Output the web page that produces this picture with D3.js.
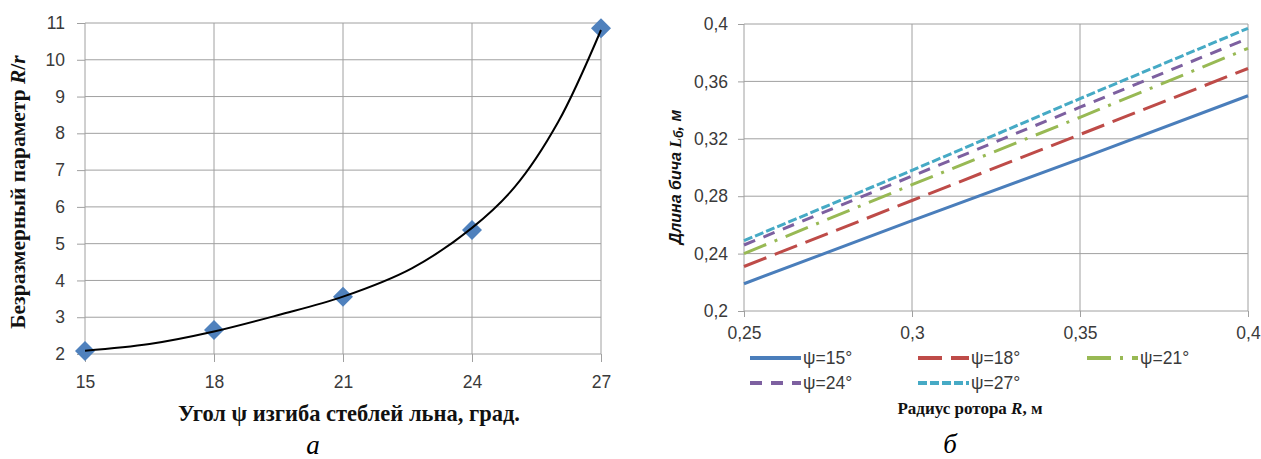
<!DOCTYPE html>
<html>
<head>
<meta charset="utf-8">
<script src="https://cdn.jsdelivr.net/npm/d3@7"></script>
<style>
	body { margin: 0; background: #fff; }
	svg { display: block; }
	.tick text { font-family: 'Liberation Sans', Arial, sans-serif; font-size: 17.5px; fill: #3a3a3a; }
	.tick line { stroke: #a0a0a0; }
	.domain { display: none; }
	.grid line { stroke: #a0a0a0; stroke-width: 1; }
	.serif-title { font-family: 'Liberation Serif', 'Times New Roman', serif; font-weight: bold; fill: #111; }
	.legend text { font-family: 'Liberation Sans', Arial, sans-serif; font-size: 17.5px; fill: #3a3a3a; }
</style>
</head>
<body>
<div id="chart"></div>
<script>
// left chart: R/r vs bending angle
const angles = [15, 18, 21, 24, 27];
const ratioValues = [2.08, 2.65, 3.56, 5.37, 10.86];
const leftYTicks = [2, 3, 4, 5, 6, 7, 8, 9, 10, 11];
// trend line
const trendAngles = [15, 16.5, 18, 19.5, 21, 22.6, 24, 25, 26, 27];
const trendValues = [2.09, 2.27, 2.61, 3.06, 3.56, 4.33, 5.43, 6.55, 8.3, 10.81];

// right chart: whip length vs rotor radius
const radii = [0.25, 0.3, 0.35, 0.4];
const seriesNames = ['ψ=15°', 'ψ=18°', 'ψ=21°', 'ψ=24°', 'ψ=27°'];
const psi15 = [0.219, 0.263, 0.306, 0.350];
const psi18 = [0.231, 0.277, 0.323, 0.369];
const psi21 = [0.240, 0.288, 0.335, 0.383];
const psi24 = [0.246, 0.294, 0.342, 0.390];
const psi27 = [0.249, 0.298, 0.348, 0.397];
const rightYTicks = [0.2, 0.24, 0.28, 0.32, 0.36, 0.4];
const rightXTicks = [0.25, 0.3, 0.35, 0.4];

const colours = ['#4a7ebb', '#be4b48', '#98b954', '#7d60a0', '#46aac5'];
const dashes = [null, '24,9', '24,9,3,9', '12,9', '9,3'];

const fmt = d => String(d).replace('.', ',');

const svg = d3.select('#chart').append('svg')
	.attr('width', 1261)
	.attr('height', 459);

drawLeft();
drawRight();

function drawLeft() {
	const x = d3.scaleLinear().domain([15, 27]).range([85, 601]);
	const y = d3.scaleLinear().domain([2, 11]).range([354, 23]);
	const g = svg.append('g');

	// grid
	g.append('g').attr('class', 'grid')
		.selectAll('line').data(leftYTicks).enter().append('line')
			.attr('x1', 85).attr('x2', 601)
			.attr('y1', d => y(d)).attr('y2', d => y(d));
	g.append('g').attr('class', 'grid')
		.selectAll('line').data(angles).enter().append('line')
			.attr('x1', d => x(d)).attr('x2', d => x(d))
			.attr('y1', 23).attr('y2', 354);

	g.append('g')
		.attr('transform', 'translate(85,0)')
		.call(d3.axisLeft(y).tickValues(leftYTicks).tickSize(8).tickPadding(12));
	g.append('g')
		.attr('transform', 'translate(0,354)')
		.call(d3.axisBottom(x).tickValues(angles).tickSize(8).tickPadding(14));

	const pts = angles.map((a, i) => [a, ratioValues[i]]);
	const trend = trendAngles.map((a, i) => [a, trendValues[i]]);
	const line = d3.line()
		.x(d => x(d[0])).y(d => y(d[1]))
		.curve(d3.curveCatmullRom.alpha(0.5));

	g.append('g')
		.selectAll('path').data(pts).enter().append('path')
			.attr('d', d3.symbol().type(d3.symbolSquare).size(200))
			.attr('transform', d => `translate(${x(d[0])},${y(d[1])}) rotate(45)`)
			.attr('fill', '#4f81bd');

	g.append('path')
		.datum(trend)
		.attr('d', line)
		.attr('fill', 'none')
		.attr('stroke', '#000')
		.attr('stroke-width', 2);

	// titles
	g.append('text')
		.attr('class', 'serif-title')
		.attr('transform', 'translate(25,192) rotate(-90)')
		.attr('text-anchor', 'middle')
		.style('font-size', '21.5px')
		.html('Безразмерный параметр <tspan font-style="italic">R</tspan>/<tspan font-style="italic">r</tspan>');

	g.append('text')
		.attr('class', 'serif-title')
		.attr('x', 349).attr('y', 421)
		.attr('text-anchor', 'middle')
		.style('font-size', '22.5px')
		.text('Угол ψ изгиба стеблей льна, град.');

	g.append('text')
		.attr('x', 313).attr('y', 454)
		.attr('text-anchor', 'middle')
		.style('font-family', "'Liberation Serif', serif")
		.style('font-style', 'italic')
		.style('font-size', '27px')
		.text('а');
}

function drawRight() {
	const x = d3.scaleLinear().domain([0.25, 0.4]).range([744, 1248]);
	const y = d3.scaleLinear().domain([0.2, 0.4]).range([311, 24]);
	const g = svg.append('g');

	g.append('g').attr('class', 'grid')
		.selectAll('line').data(rightYTicks).enter().append('line')
			.attr('x1', 744).attr('x2', 1248)
			.attr('y1', d => y(d)).attr('y2', d => y(d));
	g.append('g').attr('class', 'grid')
		.selectAll('line').data(rightXTicks).enter().append('line')
			.attr('x1', d => x(d)).attr('x2', d => x(d))
			.attr('y1', 24).attr('y2', 311);

	g.append('g')
		.attr('transform', 'translate(744,0)')
		.call(d3.axisLeft(y).tickValues(rightYTicks).tickSize(6).tickPadding(10).tickFormat(fmt));
	g.append('g')
		.attr('transform', 'translate(0,311)')
		.call(d3.axisBottom(x).tickValues(rightXTicks).tickSize(6).tickPadding(10).tickFormat(fmt));

	const series = [psi15, psi18, psi21, psi24, psi27];
	const line = d3.line().x((d, i) => x(radii[i])).y(d => y(d));

	g.append('g')
		.selectAll('path').data(series).enter().append('path')
			.attr('d', line)
			.attr('fill', 'none')
			.attr('stroke', (d, i) => colours[i])
			.attr('stroke-width', 3)
			.attr('stroke-dasharray', (d, i) => dashes[i]);

	// legend
	const legendPos = [[750, 358], [918, 358], [1087, 358], [750, 383], [918, 383]];
	const legend = g.append('g').attr('class', 'legend')
		.selectAll('g').data(seriesNames).enter().append('g')
			.attr('transform', (d, i) => `translate(${legendPos[i][0]},${legendPos[i][1]})`);
	legend.append('line')
		.attr('x1', 0).attr('x2', 51)
		.attr('stroke', (d, i) => colours[i])
		.attr('stroke-width', 4)
		.attr('stroke-dasharray', (d, i) => dashes[i]);
	legend.append('text')
		.attr('x', 53).attr('dy', '0.36em')
		.text(d => d);

	g.append('text')
		.attr('class', 'serif-title')
		.attr('x', 970).attr('y', 414)
		.attr('text-anchor', 'middle')
		.style('font-size', '17px')
		.html('Радиус ротора <tspan font-style="italic">R</tspan>, м');

	g.append('text')
		.attr('transform', 'translate(681,177) rotate(-90)')
		.attr('text-anchor', 'middle')
		.style('font-family', "'Liberation Sans', Arial, sans-serif")
		.style('font-weight', 'bold')
		.style('font-style', 'italic')
		.style('font-size', '16px')
		.style('fill', '#111')
		.html('Длина бича <tspan font-family="Liberation Serif">L</tspan><tspan font-size="12px" dy="2">б</tspan><tspan dy="-2">, м</tspan>');

	g.append('text')
		.attr('x', 950).attr('y', 453)
		.attr('text-anchor', 'middle')
		.style('font-family', "'Liberation Serif', serif")
		.style('font-style', 'italic')
		.style('font-size', '27px')
		.text('б');
}
</script>
</body>
</html>
